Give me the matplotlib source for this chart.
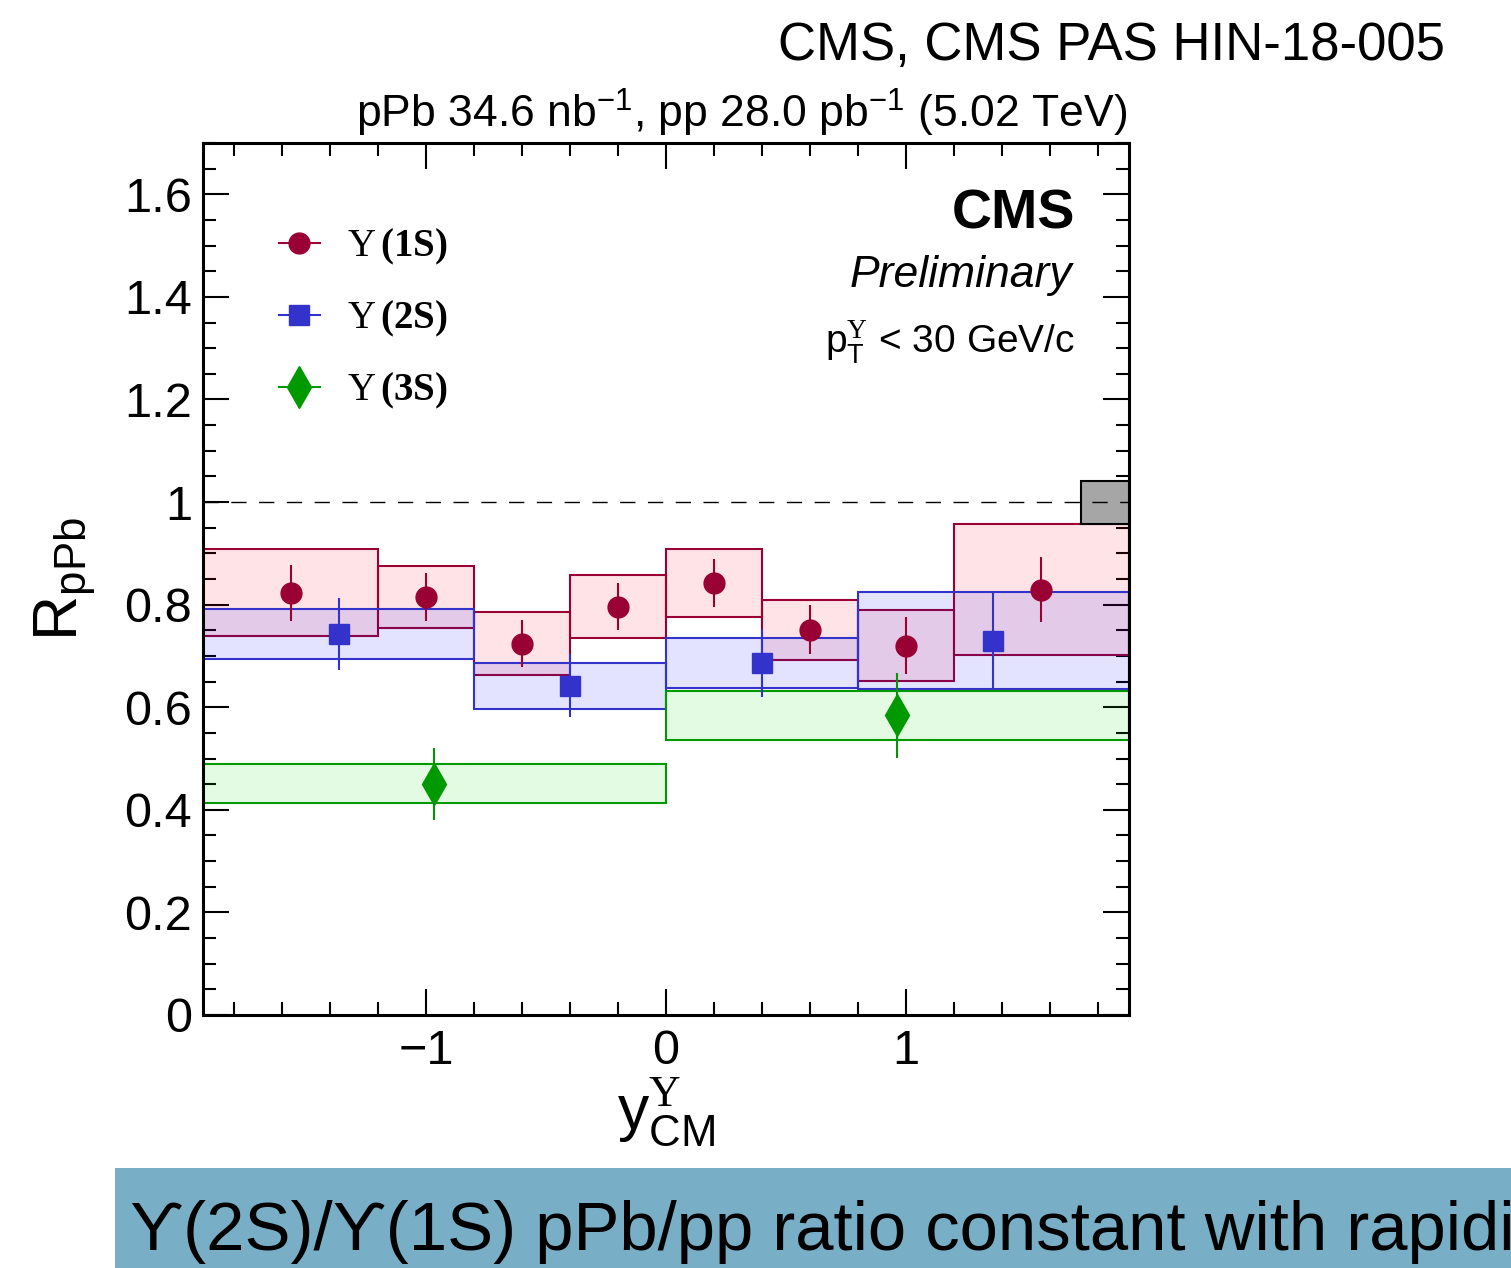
import numpy as np
import matplotlib
matplotlib.use('Agg')
import matplotlib.pyplot as plt
from matplotlib.lines import Line2D
from matplotlib.patches import Rectangle
from matplotlib.ticker import MultipleLocator, FuncFormatter

plt.rcParams['font.family'] = ['Liberation Sans', 'DejaVu Sans']
plt.rcParams['mathtext.fontset'] = 'custom'
plt.rcParams['mathtext.rm'] = 'Liberation Serif'
plt.rcParams['mathtext.bf'] = 'Liberation Serif:bold'
plt.rcParams['mathtext.sf'] = 'Liberation Sans'
plt.rcParams['mathtext.it'] = 'Liberation Sans:italic'

# Upsilon(1S)
edges1 = [-1.93, -1.2, -0.8, -0.4, 0.0, 0.4, 0.8, 1.2, 1.93]
r1 = [0.823, 0.815, 0.724, 0.796, 0.842, 0.751, 0.720, 0.829]
stat1 = [0.055, 0.046, 0.046, 0.046, 0.047, 0.048, 0.055, 0.063]
syst1 = [0.085, 0.060, 0.062, 0.061, 0.066, 0.058, 0.069, 0.128]

# Upsilon(2S)
edges2 = [-1.93, -0.8, 0.0, 0.8, 1.93]
r2 = [0.743, 0.642, 0.686, 0.730]
stat2 = [0.070, 0.061, 0.067, 0.093]
syst2 = [0.048, 0.045, 0.049, 0.094]

# Upsilon(3S)
edges3 = [-1.93, 0.0, 1.93]
r3 = [0.451, 0.584]
stat3 = [0.070, 0.083]
syst3 = [0.038, 0.047]

# global uncertainty box
glob_x = [1.73, 1.93]
glob_unc = 0.042

series = [
    (edges1, r1, stat1, syst1, '#990033', (1.0, 0.0, 0.15, 0.11), 'o', 15, r'$\mathrm{Υ}\,\mathbf{(1S)}$'),
    (edges2, r2, stat2, syst2, '#3333cc', (0.1, 0.1, 1.0, 0.12), 's', 15, r'$\mathrm{Υ}\,\mathbf{(2S)}$'),
    (edges3, r3, stat3, syst3, '#009900', (0.1, 0.9, 0.1, 0.12), 'd', 21, r'$\mathrm{Υ}\,\mathbf{(3S)}$'),
]

W, H = 1511, 1268
fig = plt.figure(figsize=(W / 100, H / 100), dpi=100)
ax = fig.add_axes([203 / W, 1 - 1015 / H, 926 / W, 872 / H])

handles = []
for edges, r, stat, syst, col, fill, mk, ms, lab in series:
    e = np.array(edges)
    r = np.array(r)
    syst = np.array(syst)
    ax.bar(e[:-1], 2 * syst, width=np.diff(e), bottom=r - syst, align='edge',
           facecolor=fill, edgecolor=col, linewidth=1.5, zorder=2)
    handles.append(Line2D([], [], color=col, marker=mk, markersize=ms, lw=1.5, label=lab))

for edges, r, stat, syst, col, fill, mk, ms, lab in series:
    e = np.array(edges)
    centers = (e[:-1] + e[1:]) / 2
    ax.errorbar(centers, r, yerr=stat, fmt=mk, color=col, markersize=ms,
                elinewidth=1.5, capsize=0, zorder=4)

ax.add_patch(Rectangle((glob_x[0], 1 - glob_unc), glob_x[1] - glob_x[0], 2 * glob_unc,
                       facecolor='#a6a6a6', edgecolor='black', linewidth=1.5, zorder=3))
ax.axhline(1.0, color='black', lw=1, dashes=(11, 9), zorder=5)

fmt = FuncFormatter(lambda v, p: ('%g' % v).replace('-', '\u2212'))
ax.set_xlim(-1.93, 1.93)
ax.set_ylim(0, 1.7)
ax.xaxis.set_major_locator(MultipleLocator(1))
ax.xaxis.set_minor_locator(MultipleLocator(0.2))
ax.yaxis.set_major_locator(MultipleLocator(0.2))
ax.yaxis.set_minor_locator(MultipleLocator(0.05))
ax.yaxis.set_major_formatter(fmt)
ax.xaxis.set_major_formatter(fmt)
ax.tick_params(which='both', direction='in', top=True, right=True, width=1.5, labelsize=35)
ax.tick_params(which='major', length=19)
ax.tick_params(which='minor', length=9.5)
ax.tick_params(axis='y', pad=8)
ax.tick_params(axis='x', pad=10)
for s in ax.spines.values():
    s.set_linewidth(2.2)

ax.set_ylabel(r'$\mathsf{R}_{\mathsf{pPb}}$', fontsize=45, va='center')
ax.yaxis.set_label_coords(-0.149, 0.5)
ax.set_xlabel(r'$\mathsf{y}^{\mathrm{Υ}}_{\mathsf{CM}}$', fontsize=45, va='center')
ax.xaxis.set_label_coords(0.5, -0.111)

ax.text(0.9417, 0.9025, 'CMS', transform=ax.transAxes, fontsize=40, fontweight='bold', ha='right', va='baseline')
ax.text(0.9384, 0.8349, 'Preliminary', transform=ax.transAxes, fontsize=32, style='italic', ha='right', va='baseline')
ax.text(0.9417, 0.759, r'$\mathsf{p}^{\mathrm{Υ}}_{\mathsf{T}}$ < 30 GeV/c', transform=ax.transAxes,
        fontsize=28, ha='right', va='baseline')
ax.text(0.998, 1.017, r'pPb 34.6 nb$^{\mathsf{-1}}$, pp 28.0 pb$^{\mathsf{-1}}$ (5.02 TeV)',
        transform=ax.transAxes, fontsize=32, ha='right', va='baseline')

ax.legend(handles=handles, loc='upper left', bbox_to_anchor=(0.082, 0.904), frameon=False,
          fontsize=28, handlelength=1.05, handletextpad=0.7, labelspacing=0.82,
          borderpad=0, borderaxespad=0)

fig.text(1445 / W, 1 - 60 / H, 'CMS, CMS PAS HIN-18-005', fontsize=38, ha='right', va='baseline')

fig.add_artist(Rectangle((115 / W, 0), 1 - 115 / W, 100 / H, transform=fig.transFigure,
                         facecolor='#78afc6', edgecolor='none'))
fig.text(130 / W, 18 / H, 'ϒ(2S)/ϒ(1S) pPb/pp ratio constant with rapidity', fontsize=49.6,
         ha='left', va='baseline')

fig.savefig('out.png', dpi=100)
